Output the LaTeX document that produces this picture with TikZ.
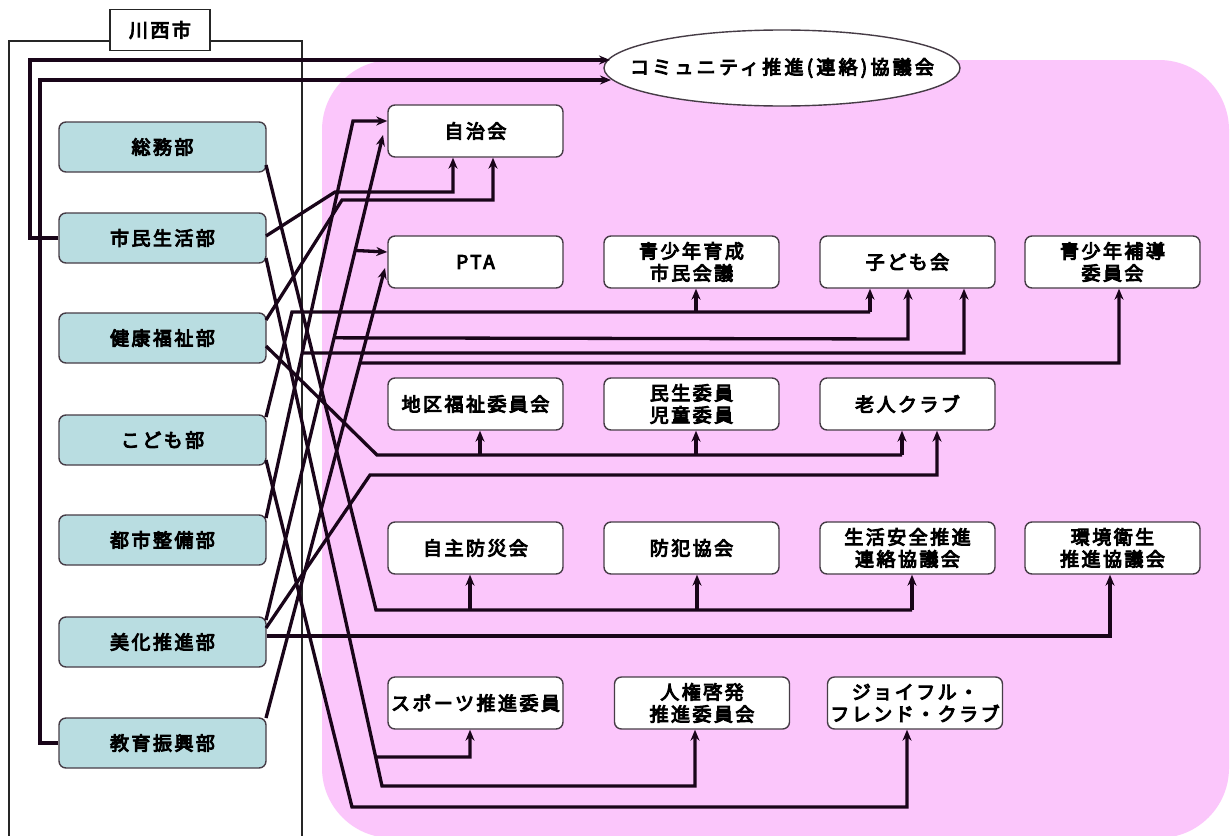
\documentclass[tikz,border=0pt]{standalone}
\usepackage{fontspec}
\newfontfamily\jp[LetterSpace=13,FakeBold=5]{Noto Sans CJK JP}
\newfontfamily\jpw[LetterSpace=17,FakeBold=5]{Noto Sans CJK JP}
\usetikzlibrary{shapes.geometric,arrows.meta,calc}
\definecolor{deptfill}{RGB}{185,221,225}
\definecolor{pinkbg}{RGB}{251,198,251}
\definecolor{boxline}{RGB}{70,60,70}
\definecolor{conn}{RGB}{25,5,25}
\begin{document}
\begin{tikzpicture}[x=1pt,y=-1pt,
  every node/.style={font=\jp\fontsize{19}{22}\selectfont},
  dept/.style={draw=boxline,line width=1.4pt,fill=deptfill,rounded corners=7pt,minimum width=207pt,minimum height=50pt,inner sep=0pt},
  org/.style={draw=boxline,line width=1.4pt,fill=white,rounded corners=7pt,minimum width=175pt,minimum height=52pt,inner sep=0pt,align=center},
  con/.style={draw=conn,line width=3.3pt},
  arr/.style={con,-{Stealth[length=11pt,width=9pt]}},
  frameline/.style={draw=black!85,line width=1.2pt}]
\useasboundingbox (0,0) rectangle (1230,835);
\fill[white] (0,0) rectangle (1230,835);
% pink region
\fill[pinkbg,rounded corners=70pt] (322,60) rectangle (1229,838);
% city frame
\draw[frameline] (9,845) -- (9,41) -- (302,41) -- (302,845);
\node[draw=black!85,line width=1.2pt,fill=white,minimum width=100pt,minimum height=41pt,inner sep=0pt] (city) at (160,30) {川西市};
% ellipse
\node[draw=boxline,line width=1.4pt,fill=white,ellipse,minimum width=356pt,minimum height=76pt,inner sep=0pt] (comm) at (782,68) {};
\node[font=\jpw\fontsize{19}{22}\selectfont] (commtext) at (comm.center) {コミュニティ推進(連絡)協議会};
% departments
\node[dept] (somu)   at (162.5,147) {総務部};
\node[dept] (shimin) at (162.5,238) {市民生活部};
\node[dept] (kenko)  at (162.5,338) {健康福祉部};
\node[dept] (kodomo) at (162.5,440) {こども部};
\node[dept] (toshi)  at (162.5,540) {都市整備部};
\node[dept] (bika)   at (162.5,642) {美化推進部};
\node[dept] (kyoiku) at (162.5,743) {教育振興部};
% organisations
\node[org] (jichi)     at (475.5,131) {自治会};
\node[org] (pta)       at (475.5,262) {PTA};
\node[org] (seisho)    at (691.5,262) {青少年育成\\市民会議};
\node[org] (kodomokai) at (907.5,262) {子ども会};
\node[org] (hodo)      at (1112.5,262) {青少年補導\\委員会};
\node[org] (chiku)     at (475.5,404) {地区福祉委員会};
\node[org] (minsei)    at (691.5,404) {民生委員\\児童委員};
\node[org] (rojin)     at (907.5,404) {老人クラブ};
\node[org] (bosai)     at (475.5,548) {自主防災会};
\node[org] (bohan)     at (691.5,548) {防犯協会};
\node[org] (seikatsu)  at (907.5,548) {生活安全推進\\連絡協議会};
\node[org] (kankyo)    at (1112.5,548) {環境衛生\\推進協議会};
\node[org] (sports)    at (475.5,703) {スポーツ推進委員};
\node[org] (jinken)    at (702,703) {人権啓発\\推進委員会};
\node[org] (joyful)    at (915,703) {ジョイフル・\\フレンド・クラブ};
% bend / branch points
\coordinate (tA) at (266,518);  \coordinate (tB) at (353,121);
\coordinate (bA) at (266,620);  \coordinate (bB) at (383,135);
\coordinate (eA) at (266,718);  \coordinate (eB) at (385,268);
\coordinate (sA) at (266,258);  \coordinate (sB) at (382,786);
% to ellipse
\draw[arr] (shimin.west) -- (30,238) -- (30,60) -- (610,60);
\draw[arr] (kyoiku.west) -- (40,743) -- (40,80) -- (611,80);
% somu -> row 4
\draw[con] (266,165) -- (376,610) -- (912,610);
\draw[arr] (470,610) -- (bosai.south -| 470,0);
\draw[arr] (697,610) -- (bohan.south -| 697,0);
\draw[arr] (912,610) -- (seikatsu.south -| 912,0);
% shimin -> jichi ; shimin -> sports, jinken
\draw[arr] (266,236) -- (335,192) -- (453,192) -- (jichi.south -| 453,0);
\draw[arr] (sA) -- (sB) -- (695,786) -- (jinken.south -| 695,0);
\draw[arr] ($(sA)!0.945!(sB)$) -- (470,757) -- (sports.south -| 470,0);
% kenko -> jichi ; kenko -> row 3
\draw[arr] (266,320) -- (342,200) -- (493,200) -- (jichi.south -| 493,0);
\draw[con] (266,346) -- (377,455) -- (902,455);
\draw[arr] (480,455) -- (chiku.south -| 480,0);
\draw[arr] (696,455) -- (minsei.south -| 696,0);
\draw[arr] (902,455) -- (rojin.south -| 902,0);
% kodomo
\draw[con] (266,417) -- (292,312) -- (870,312);
\draw[arr] (696,312) -- (seisho.south -| 696,0);
\draw[arr] (870,312) -- (kodomokai.south -| 870,0);
\draw[arr] (266,460) -- (352,807) -- (907,807) -- (joyful.south -| 907,0);
% toshi -> jichi, kodomokai
\draw[arr] (tA) -- (tB) -- (jichi.west |- 0,121);
\draw[arr] ($(tA)!0.4156!(tB)$) -- (964,353) -- (kodomokai.south -| 964,0);
% bika -> jichi, pta, kodomokai, rojin, kankyo
\draw[arr] (bA) -- (bB);
\draw[arr] ($(bA)!0.5818!(bB)$) -- (908,339) -- (kodomokai.south -| 908,0);
\draw[arr] ($(bA)!0.7619!(bB)$) -- (pta.west |- 0,252);
\draw[arr] (266,628) -- (370,475) -- (937,475) -- (rojin.south -| 937,0);
\draw[arr] (bika.east |- 0,636) -- (1110,636) -- (kankyo.south -| 1110,0);
% kyoiku -> pta, hodo
\draw[arr] (eA) -- (eB);
\draw[arr] ($(eA)!0.789!(eB)$) -- (1119,363) -- (hodo.south -| 1119,0);
\end{tikzpicture}
\end{document}
